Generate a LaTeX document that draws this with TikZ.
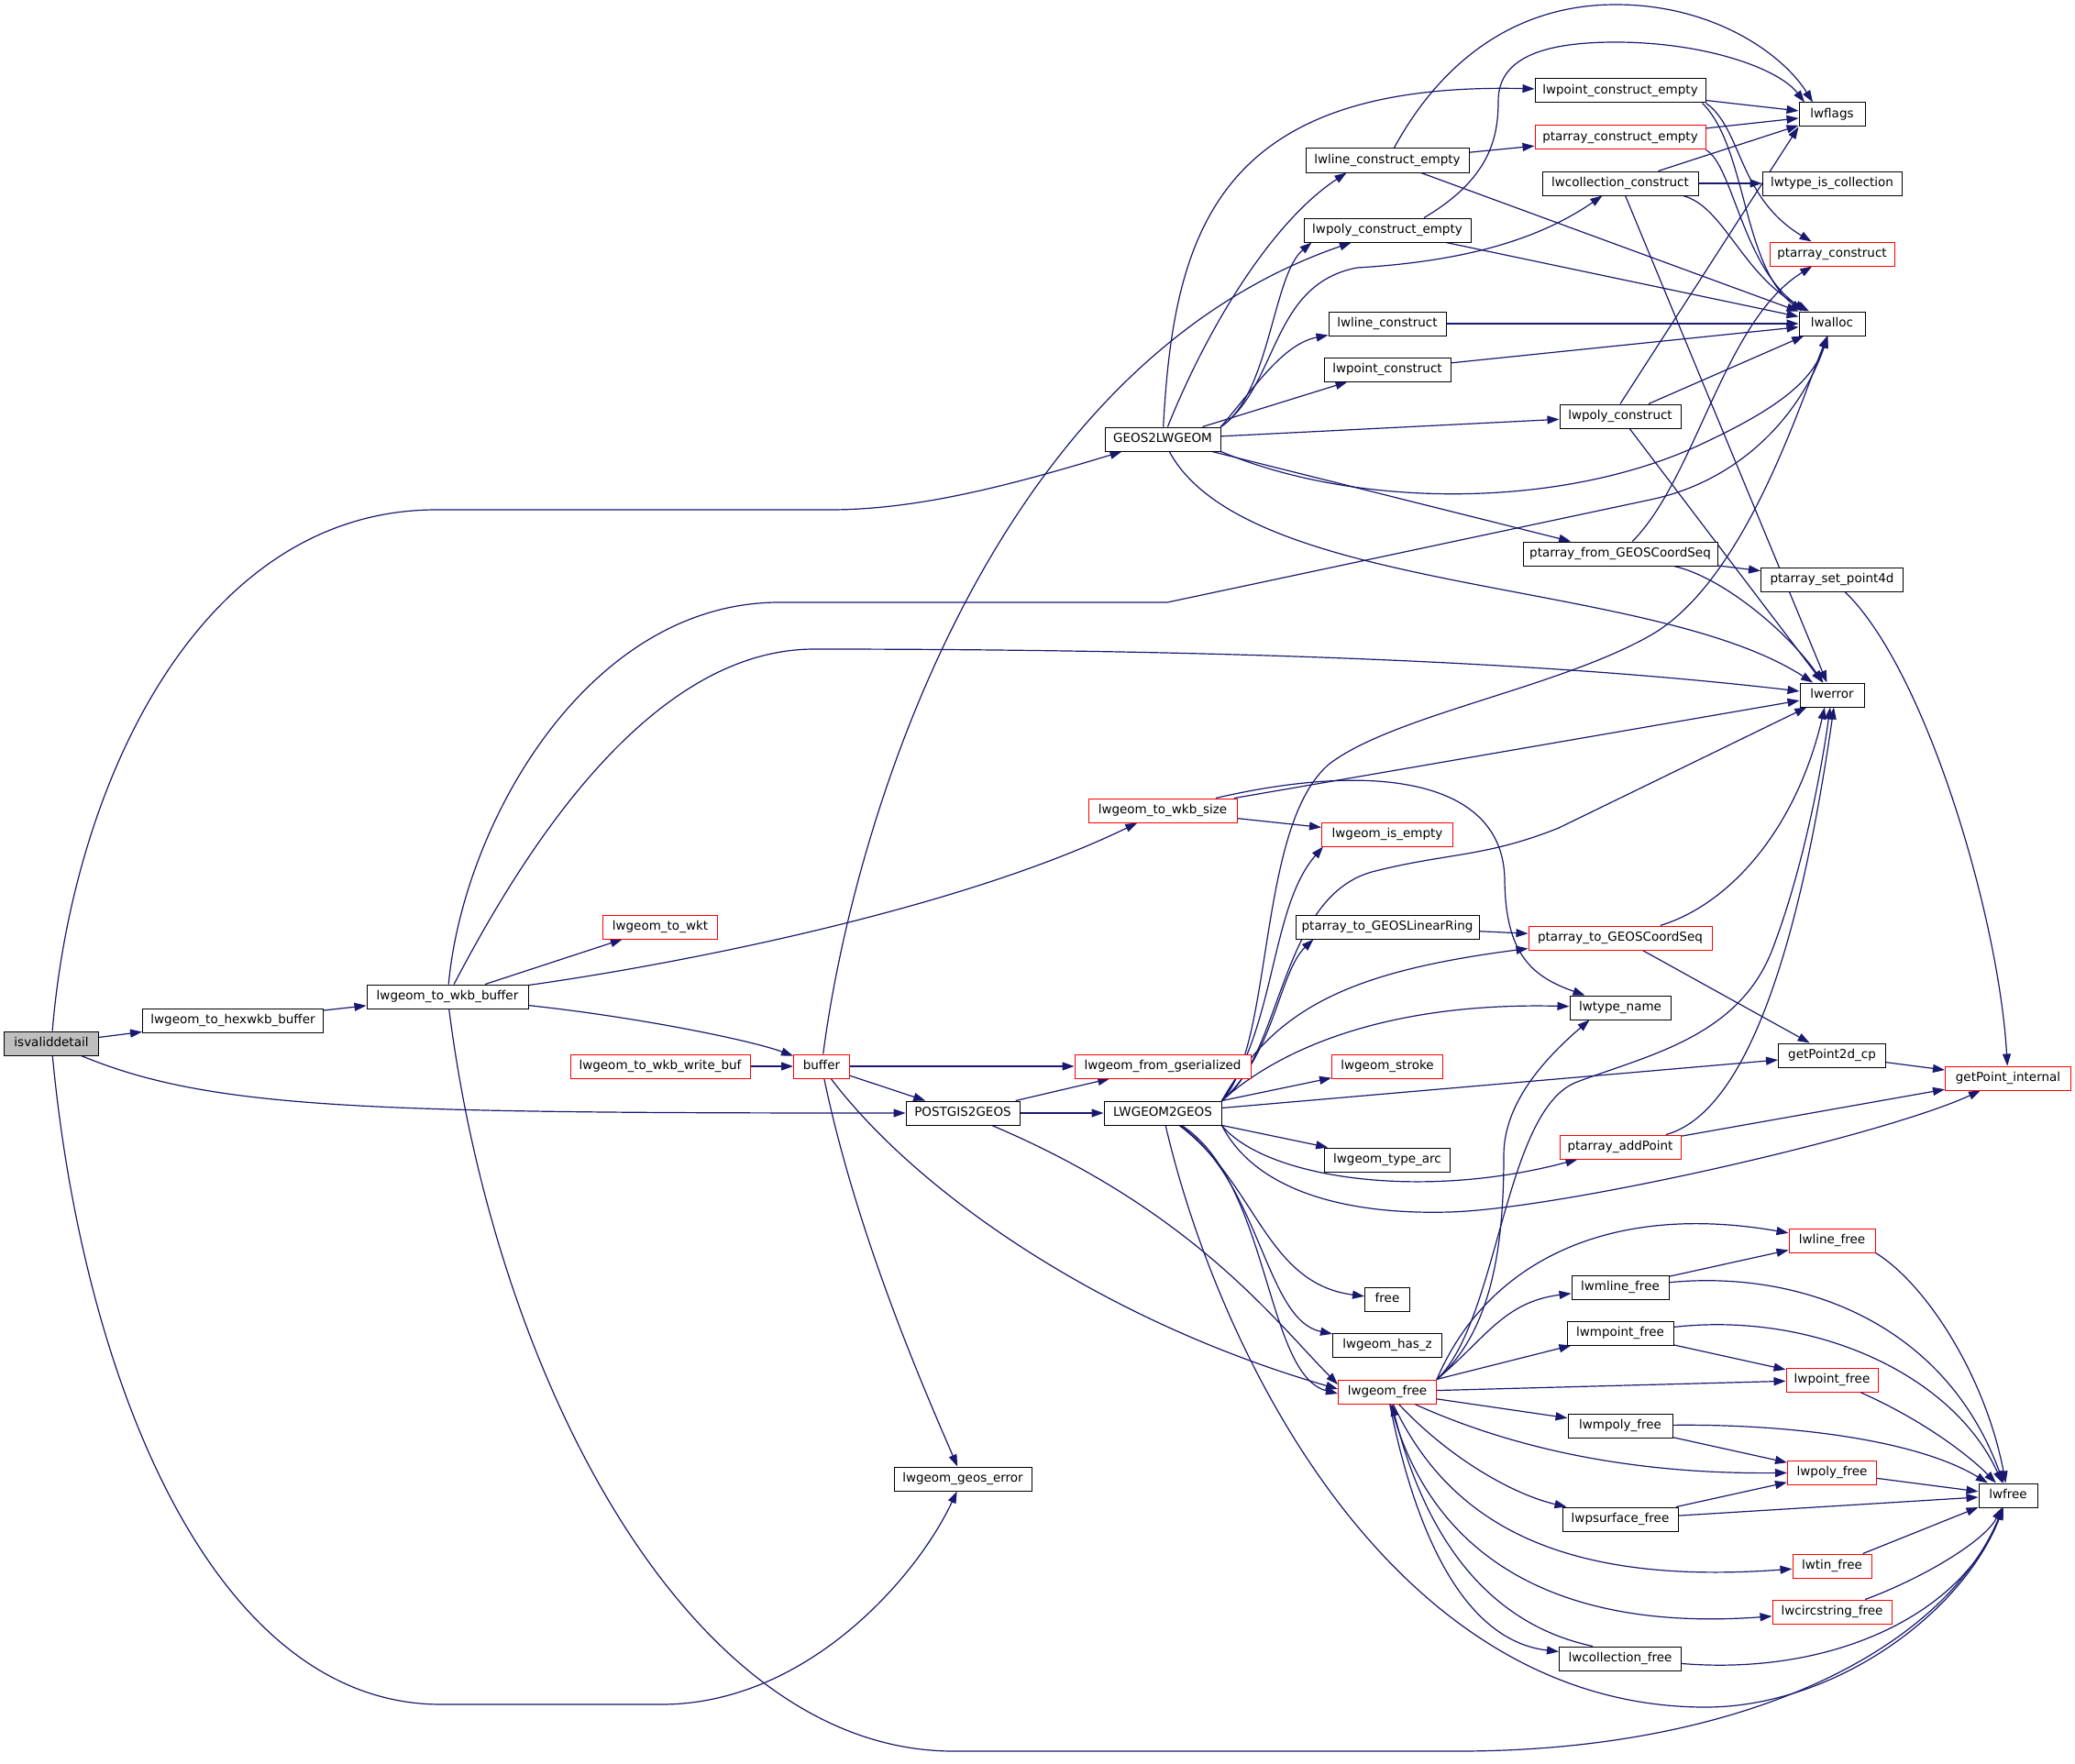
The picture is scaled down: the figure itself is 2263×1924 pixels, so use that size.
\documentclass[tikz,border=0pt]{standalone}
\usepackage{fontspec}
\newfontfamily\dv{DejaVu Sans}
\usetikzlibrary{arrows.meta}
\definecolor{edgec}{HTML}{191970}
\definecolor{boxred}{HTML}{FF0000}
\definecolor{ivgray}{HTML}{BFBFBF}
\pgfdeclarelayer{bgl}
\pgfdeclarelayer{edgel}
\pgfsetlayers{bgl,edgel,main}
\begin{document}
\begin{tikzpicture}[x=1pt,y=-1pt,
  box/.style={draw=black, line width=1pt, fill=white, minimum height=26pt, inner sep=0pt,
    text height=10pt, text depth=3pt, font=\dv\fontsize{13.5}{16}\selectfont},
  rbox/.style={box, draw=boxred},
  cedge/.style={draw=edgec, line width=1.2pt, -{Triangle[length=13pt,width=9pt]}}]
\begin{pgfonlayer}{bgl}
\fill[white] (0,0) rectangle (2263,1924);
\end{pgfonlayer}
\useasboundingbox (0,0) rectangle (2263,1924);
% rank 0-6
\node[box,fill=ivgray,minimum width=103pt] (iv) at (56,1138) {isvaliddetail};
\node[box,minimum width=197pt] (hexwkb) at (254,1113) {lwgeom\_to\_hexwkb\_buffer};
\node[box,minimum width=176pt] (wkbbuf) at (488,1087) {lwgeom\_to\_wkb\_buffer};
\node[rbox,minimum width=125pt] (wkt) at (720,1011) {lwgeom\_to\_wkt};
\node[rbox,minimum width=196pt] (writebuf) at (720,1163) {lwgeom\_to\_wkb\_write\_buf};
\node[rbox,minimum width=61pt] (buffer) at (896,1163) {buffer};
\node[box,minimum width=124pt] (postgis) at (1050,1214) {POSTGIS2GEOS};
\node[box,minimum width=150pt] (geoserr) at (1050,1613) {lwgeom\_geos\_error};
\node[box,minimum width=126pt] (geos2lw) at (1268,479) {GEOS2LWGEOM};
\node[rbox,minimum width=162pt] (wkbsize) at (1268,884) {lwgeom\_to\_wkb\_size};
\node[rbox,minimum width=192pt] (fromgser) at (1268,1163) {lwgeom\_from\_gserialized};
\node[box,minimum width=128pt] (lwgeos) at (1268,1214) {LWGEOM2GEOS};
% rank 7
\node[box,minimum width=178pt] (lwlinece) at (1513,175) {lwline\_construct\_empty};
\node[box,minimum width=182pt] (lwpolyce) at (1513,251) {lwpoly\_construct\_empty};
\node[box,minimum width=128pt] (lwlinecon) at (1513,353) {lwline\_construct};
\node[box,minimum width=138pt] (lwpointcon) at (1513,403) {lwpoint\_construct};
\node[rbox,minimum width=143pt] (isempty) at (1513,910) {lwgeom\_is\_empty};
\node[box,minimum width=200pt] (linring) at (1513,1011) {ptarray\_to\_GEOSLinearRing};
\node[rbox,minimum width=121pt] (stroke) at (1513,1163) {lwgeom\_stroke};
\node[box,minimum width=137pt] (typearc) at (1513,1265) {lwgeom\_type\_arc};
\node[box,minimum width=49pt] (free) at (1513,1417) {free};
\node[box,minimum width=119pt] (hasz) at (1513,1467) {lwgeom\_has\_z};
\node[rbox,minimum width=107pt] (lwgeomfree) at (1513,1518) {lwgeom\_free};
% rank 8
\node[box,minimum width=186pt] (lwpointce) at (1767,99) {lwpoint\_construct\_empty};
\node[rbox,minimum width=186pt] (ptarrce) at (1767,150) {ptarray\_construct\_empty};
\node[box,minimum width=170pt] (lwcollconstr) at (1767,200) {lwcollection\_construct};
\node[box,minimum width=132pt] (lwpolycon) at (1767,454) {lwpoly\_construct};
\node[box,minimum width=212pt] (ptfrom) at (1767,604) {ptarray\_from\_GEOSCoordSeq};
\node[rbox,minimum width=200pt] (ptcs) at (1767,1023) {ptarray\_to\_GEOSCoordSeq};
\node[box,minimum width=110pt] (lwtypename) at (1767,1099) {lwtype\_name};
\node[rbox,minimum width=132pt] (ptaddpt) at (1767,1251) {ptarray\_addPoint};
\node[box,minimum width=106pt] (lwmlinefree) at (1767,1404) {lwmline\_free};
\node[box,minimum width=116pt] (lwmpointfree) at (1767,1454) {lwmpoint\_free};
\node[box,minimum width=114pt] (lwmpolyfree) at (1767,1555) {lwmpoly\_free};
\node[box,minimum width=126pt] (lwpsurfacefree) at (1767,1657) {lwpsurface\_free};
\node[box,minimum width=133pt] (lwcollfree) at (1767,1809) {lwcollection\_free};
% rank 9
\node[box,minimum width=72pt] (lwflags) at (1998,125) {lwflags};
\node[box,minimum width=152pt] (lwtypeiscoll) at (1998,200) {lwtype\_is\_collection};
\node[rbox,minimum width=136pt] (ptarrconstr) at (1998,277) {ptarray\_construct};
\node[box,minimum width=72pt] (lwalloc) at (1998,353) {lwalloc};
\node[box,minimum width=155pt] (ptset4d) at (1998,632) {ptarray\_set\_point4d};
\node[box,minimum width=70pt] (lwerror) at (1998,758) {lwerror};
\node[box,minimum width=117pt] (getpt2d) at (1998,1151) {getPoint2d\_cp};
\node[rbox,minimum width=94pt] (lwlinefree) at (1998,1353) {lwline\_free};
\node[rbox,minimum width=100pt] (lwpointfree) at (1998,1505) {lwpoint\_free};
\node[rbox,minimum width=97pt] (lwpolyfree) at (1998,1606) {lwpoly\_free};
\node[rbox,minimum width=86pt] (lwtinfree) at (1998,1708) {lwtin\_free};
\node[rbox,minimum width=130pt] (lwcircfree) at (1998,1758) {lwcircstring\_free};
% rank 10
\node[rbox,minimum width=137pt] (getptint) at (2190,1176) {getPoint\_internal};
\node[box,minimum width=64pt] (lwfree) at (2190,1631) {lwfree};

\begin{pgfonlayer}{edgel}
% isvaliddetail
\draw[cedge] (iv) -- (hexwkb);
\draw[cedge] (iv) .. controls (80,850) and (220,556) .. (476,556) -- (905,556) .. controls (1000,556) and (1100,530) .. (geos2lw);
\draw[cedge] (iv) .. controls (230,1210) and (400,1214) .. (postgis);
\draw[cedge] (iv) .. controls (90,1500) and (230,1859) .. (481,1859) -- (721,1859) .. controls (880,1859) and (1000,1720) .. (geoserr);
% wkb buffer
\draw[cedge] (hexwkb) -- (wkbbuf);
\draw[cedge] (wkbbuf) .. controls (505,900) and (640,657) .. (850,657) -- (1273,657) -- (1800,545) .. controls (1900,524) and (1965,450) .. (lwalloc);
\draw[cedge] (wkbbuf) .. controls (560,950) and (700,708) .. (888,708) .. controls (1500,708) and (1800,735) .. (lwerror);
\draw[cedge] (wkbbuf) -- (wkt);
\draw[cedge] (wkbbuf) .. controls (750,1050) and (1050,990) .. (wkbsize);
\draw[cedge] (wkbbuf) .. controls (700,1110) and (820,1135) .. (buffer);
\draw[cedge] (wkbbuf) .. controls (540,1500) and (750,1910) .. (1040,1910) -- (1590,1910) .. controls (1900,1910) and (2120,1800) .. (lwfree);
\draw[cedge] (writebuf) -- (buffer);
% buffer
\draw[cedge] (buffer) .. controls (930,900) and (1080,400) .. (lwpolyce);
\draw[cedge] (buffer) -- (fromgser);
\draw[cedge] (buffer) -- (postgis);
\draw[cedge] (buffer) .. controls (1000,1300) and (1200,1440) .. ([yshift=3pt]lwgeomfree.west);
\draw[cedge] (buffer) .. controls (935,1350) and (1010,1520) .. (geoserr);
% postgis
\draw[cedge] (postgis) -- (fromgser);
\draw[cedge] (postgis) -- (lwgeos);
\draw[cedge] (postgis) .. controls (1300,1320) and (1390,1440) .. ([yshift=8pt]lwgeomfree.west);
% wkb size
\draw[cedge] (wkbsize) -- (isempty);
\draw[cedge] (wkbsize) -- (lwerror);
\draw[cedge] (wkbsize) .. controls (1500,830) and (1640,850) .. (1641,960) .. controls (1642,1040) and (1670,1065) .. (lwtypename);
% GEOS2LWGEOM
\draw[cedge] (geos2lw) .. controls (1280,250) and (1330,89) .. (lwpointce);
\draw[cedge] (geos2lw) .. controls (1320,350) and (1390,240) .. ([xshift=45pt]lwlinece.south west);
\draw[cedge] (geos2lw.north east) .. controls (1385,430) and (1388,300) .. ([xshift=9pt]lwpolyce.south west);
\draw[cedge] (geos2lw.north east) .. controls (1395,420) and (1385,310) .. (1480,292) .. controls (1600,285) and (1680,260) .. (lwcollconstr);
\draw[cedge] (geos2lw.north east) .. controls (1370,420) and (1400,375) .. (lwlinecon);
\draw[cedge] (geos2lw) -- (lwpointcon);
\draw[cedge] (geos2lw) -- (lwpolycon);
\draw[cedge] (geos2lw.south east) .. controls (1480,555) and (1700,555) .. (1850,487) .. controls (1930,450) and (1975,420) .. (lwalloc);
\draw[cedge] (geos2lw) -- (ptfrom);
\draw[cedge] (geos2lw) .. controls (1360,650) and (1800,630) .. (lwerror);
% top cluster
\draw[cedge] (lwpointce) -- (lwflags);
\draw[cedge] ([xshift=-4pt]lwpointce.south east) .. controls (1905,160) and (1900,290) .. ([xshift=4pt]lwalloc.north west);
\draw[cedge] (lwpointce.south east) .. controls (1900,140) and (1895,215) .. (ptarrconstr);
\draw[cedge] (lwlinece) .. controls (1570,70) and (1650,5) .. (1762,5) .. controls (1870,5) and (1945,60) .. ([xshift=-21pt]lwflags.north);
\draw[cedge] ([xshift=40pt]lwpolyce.north) .. controls (1625,195) and (1634,150) .. (1634,110) .. controls (1634,60) and (1690,46) .. (1762,46) .. controls (1860,46) and (1940,75) .. ([xshift=-30pt]lwflags.north);
\draw[cedge] (lwlinece) -- (ptarrce);
\draw[cedge] (lwlinece) -- (lwalloc);
\draw[cedge] (ptarrce) -- (lwflags);
\draw[cedge] (ptarrce.south east) .. controls (1890,180) and (1900,290) .. ([xshift=8pt]lwalloc.north west);
\draw[cedge] (lwcollconstr) -- (lwflags);
\draw[cedge] (lwcollconstr) -- (lwtypeiscoll);
\draw[cedge] ([xshift=-17pt]lwcollconstr.south east) .. controls (1880,225) and (1900,300) .. (lwalloc);
\draw[cedge] (lwcollconstr) -- (lwerror);
\draw[cedge] (lwpolyce) -- (lwalloc);
\draw[cedge] (lwlinecon) -- (lwalloc);
\draw[cedge] (lwpointcon) -- (lwalloc);
\draw[cedge] (lwpolycon.north) -- (lwflags.south west);
\draw[cedge] (lwpolycon) -- (lwalloc);
\draw[cedge] (lwpolycon) -- (lwerror);
\draw[cedge] (ptfrom) .. controls (1850,520) and (1880,350) .. (ptarrconstr);
\draw[cedge] (ptfrom) -- (ptset4d);
\draw[cedge] (ptfrom) .. controls (1880,630) and (1950,690) .. (lwerror);
\draw[cedge] (ptset4d) .. controls (2100,730) and (2180,1000) .. (getptint);
% LWGEOM2GEOS
\draw[cedge] (lwgeos.north east) .. controls (1390,1140) and (1370,900) .. (1450,833) .. controls (1520,780) and (1700,750) .. (1800,693) .. controls (1900,636) and (1960,450) .. (lwalloc);
\draw[cedge] (lwgeos.north east) .. controls (1400,1150) and (1395,975) .. (1500,950) .. controls (1580,930) and (1620,935) .. (1700,903) -- (lwerror);
\draw[cedge] (lwgeos.north east) .. controls (1392,1120) and (1385,990) .. ([xshift=2pt]isempty.south west);
\draw[cedge] (lwgeos.north east) .. controls (1390,1150) and (1395,1060) .. ([xshift=20pt]linring.south west);
\draw[cedge] (lwgeos.north east) .. controls (1390,1100) and (1470,1060) .. ([yshift=2pt]ptcs.south west);
\draw[cedge] (lwgeos.north east) .. controls (1400,1140) and (1520,1093) .. (lwtypename);
\draw[cedge] (lwgeos) -- (stroke);
\draw[cedge] (lwgeos) -- (getpt2d);
\draw[cedge] (lwgeos) -- (typearc);
\draw[cedge] (lwgeos.south east) .. controls (1380,1285) and (1550,1310) .. ([xshift=20pt]ptaddpt.south west);
\draw[cedge] (lwgeos.south east) .. controls (1370,1300) and (1470,1325) .. (1580,1322) .. controls (1700,1319) and (2050,1240) .. ([xshift=-30pt]getptint.south);
\draw[cedge] (lwgeos) .. controls (1370,1290) and (1380,1400) .. (free);
\draw[cedge] (lwgeos) .. controls (1375,1290) and (1380,1440) .. (hasz);
\draw[cedge] (lwgeos) .. controls (1385,1290) and (1380,1500) .. ([yshift=-2pt]lwgeomfree.west);
\draw[cedge] (lwgeos) .. controls (1330,1480) and (1520,1862) .. (1860,1862) .. controls (2000,1862) and (2140,1760) .. (lwfree);
% coord seq etc
\draw[cedge] (linring) -- (ptcs);
\draw[cedge] (ptcs) .. controls (1890,985) and (1960,900) .. ([xshift=-8pt]lwerror.south);
\draw[cedge] (ptcs) -- (getpt2d);
\draw[cedge] (getpt2d) -- (getptint);
\draw[cedge] (ptaddpt) .. controls (1900,1215) and (1960,1050) .. ([xshift=2pt]lwerror.south);
\draw[cedge] (ptaddpt) -- (getptint);
% lwgeom_free
\draw[cedge] (lwgeomfree.north east) .. controls (1630,1450) and (1640,1350) .. (1640,1260) .. controls (1640,1200) and (1690,1150) .. ([xshift=22pt]lwtypename.south west);
\draw[cedge] (lwgeomfree.north east) .. controls (1635,1440) and (1640,1210) .. (1720,1180) .. controls (1800,1150) and (1900,1130) .. (1935,1030) .. controls (1965,950) and (1985,850) .. ([xshift=-2pt]lwerror.south);
\draw[cedge] (lwgeomfree.north east) .. controls (1620,1380) and (1750,1310) .. (lwlinefree);
\draw[cedge] (lwgeomfree.north east) .. controls (1620,1460) and (1640,1420) .. (lwmlinefree);
\draw[cedge] (lwgeomfree) -- (lwmpointfree);
\draw[cedge] (lwgeomfree) -- (lwpointfree);
\draw[cedge] (lwgeomfree) -- (lwmpolyfree);
\draw[cedge] (lwgeomfree) .. controls (1650,1580) and (1780,1608) .. (lwpolyfree);
\draw[cedge] (lwgeomfree) .. controls (1580,1590) and (1650,1630) .. (lwpsurfacefree);
\draw[cedge] (lwgeomfree) .. controls (1580,1660) and (1700,1730) .. (lwtinfree);
\draw[cedge] (lwgeomfree) .. controls (1560,1700) and (1700,1780) .. (lwcircfree);
\draw[cedge] (lwgeomfree) .. controls (1545,1680) and (1600,1790) .. (lwcollfree);
\draw[cedge] ([xshift=-30pt]lwcollfree.north) .. controls (1640,1775) and (1560,1700) .. ([xshift=5pt]lwgeomfree.south);
% free functions
\draw[cedge] (lwmlinefree) -- (lwlinefree);
\draw[cedge] (lwmlinefree) .. controls (1960,1385) and (2120,1440) .. (lwfree);
\draw[cedge] (lwmpointfree) -- (lwpointfree);
\draw[cedge] (lwmpointfree) .. controls (1980,1430) and (2130,1500) .. (lwfree);
\draw[cedge] (lwmpolyfree) -- (lwpolyfree);
\draw[cedge] (lwmpolyfree) .. controls (1950,1553) and (2090,1570) .. (lwfree);
\draw[cedge] (lwpsurfacefree) -- (lwpolyfree);
\draw[cedge] (lwpsurfacefree) -- (lwfree);
\draw[cedge] (lwlinefree.south east) .. controls (2100,1400) and (2165,1500) .. (lwfree);
\draw[cedge] (lwpointfree) .. controls (2100,1550) and (2150,1590) .. (lwfree);
\draw[cedge] (lwpolyfree) -- (lwfree);
\draw[cedge] (lwtinfree) -- (lwfree);
\draw[cedge] (lwcircfree) .. controls (2100,1720) and (2165,1680) .. (lwfree);
\draw[cedge] (lwcollfree) .. controls (2000,1828) and (2140,1760) .. (lwfree);
\end{pgfonlayer}
\end{tikzpicture}
\end{document}
